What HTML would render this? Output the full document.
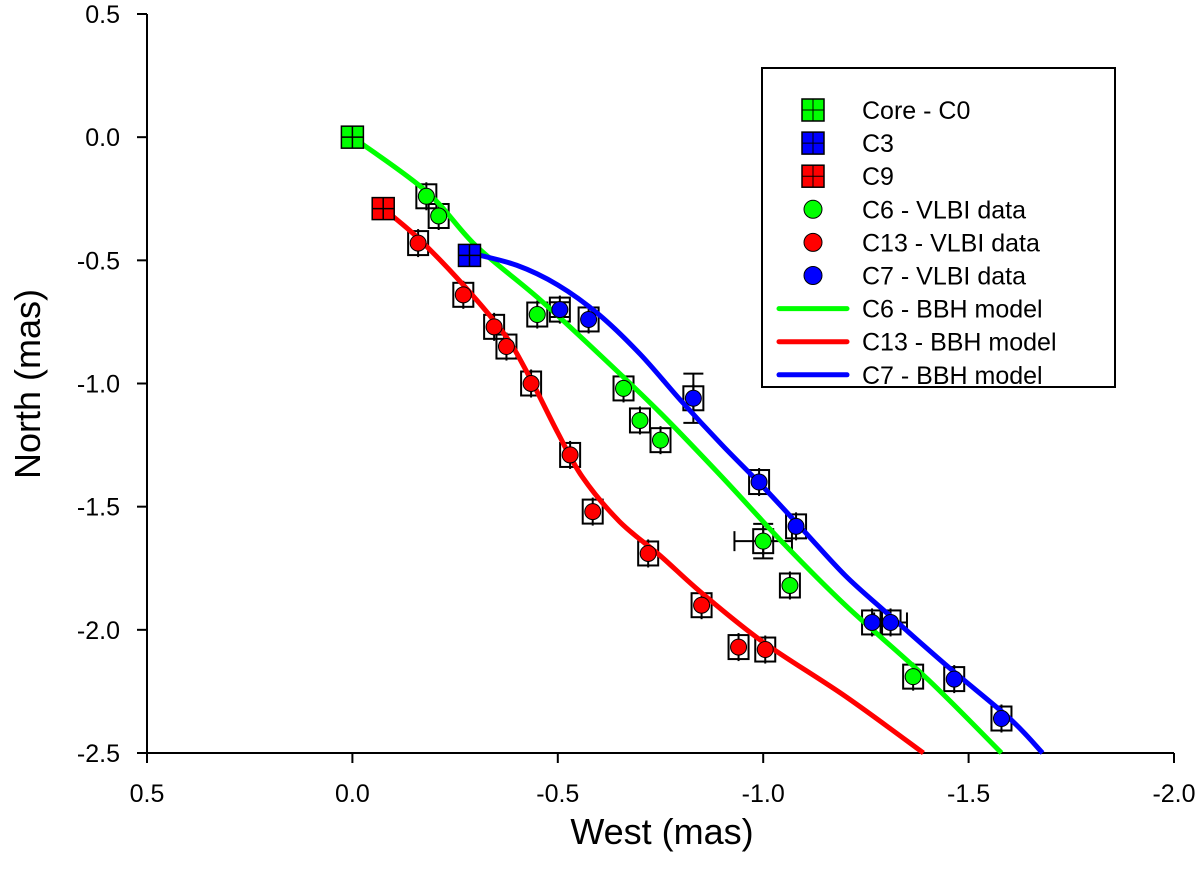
<!DOCTYPE html>
<html><head><meta charset="utf-8"><style>
body{margin:0;background:#fff}
svg text{font-family:"Liberation Sans",sans-serif}
</style></head><body>
<svg id="c" width="1200" height="885"></svg>
<script>
const xTicks=[0.5,0.0,-0.5,-1.0,-1.5,-2.0];
const yTicks=[0.5,0.0,-0.5,-1.0,-1.5,-2.0,-2.5];
const c6x=[-0.18,-0.21,-0.45,-0.66,-0.70,-0.75,-1.0,-1.065,-1.365];
const c6y=[-0.24,-0.32,-0.72,-1.02,-1.15,-1.23,-1.64,-1.82,-2.19];
const c13x=[-0.16,-0.27,-0.345,-0.375,-0.435,-0.53,-0.585,-0.72,-0.85,-0.94,-1.005];
const c13y=[-0.43,-0.64,-0.77,-0.85,-1.0,-1.29,-1.52,-1.69,-1.9,-2.07,-2.08];
const c7x=[-0.505,-0.575,-0.83,-0.99,-1.08,-1.265,-1.31,-1.465,-1.58];
const c7y=[-0.70,-0.74,-1.06,-1.40,-1.58,-1.97,-1.97,-2.20,-2.36];
const coreX=[0],coreY=[0],c9X=[-0.075],c9Y=[-0.29],c3X=[-0.285],c3Y=[-0.48];
const m6x=[0,-0.18,-0.3,-0.45,-0.6,-0.75,-0.9,-1.05,-1.2,-1.4,-1.58];
const m6y=[0,-0.22,-0.44,-0.65,-0.88,-1.12,-1.38,-1.65,-1.9,-2.2,-2.5];
const m13x=[-0.075,-0.16,-0.27,-0.37,-0.43,-0.5,-0.56,-0.65,-0.75,-0.85,-1.0,-1.2,-1.39];
const m13y=[-0.29,-0.41,-0.6,-0.8,-0.97,-1.2,-1.38,-1.56,-1.7,-1.85,-2.05,-2.27,-2.5];
const m7x=[-0.285,-0.4,-0.5,-0.6,-0.7,-0.8,-0.9,-1.0,-1.1,-1.2,-1.3,-1.45,-1.6,-1.68];
const m7y=[-0.47,-0.52,-0.6,-0.72,-0.88,-1.07,-1.25,-1.42,-1.6,-1.78,-1.93,-2.15,-2.36,-2.5];
const X=v=>147+(0.5-v)/2.5*1027;
const Y=v=>14+(0.5-v)/3*739;
const svg=document.getElementById('c');const NS='http://www.w3.org/2000/svg';
function mk(t,a,p){const e=document.createElementNS(NS,t);for(const k in a)e.setAttribute(k,a[k]);(p||svg).appendChild(e);return e;}
let e;
e=mk('line',{x1:147,y1:14,x2:147,y2:753,stroke:'#000','stroke-width':2});


e=mk('line',{x1:147,y1:753,x2:1174,y2:753,stroke:'#000','stroke-width':2});


xTicks.forEach(v=>{mk('line',{x1:X(v),y1:753,x2:X(v),y2:763,stroke:'#000','stroke-width':2});
 e=mk('text',{x:X(v),y:802,'font-size':25,'text-anchor':'middle'});e.textContent=v.toFixed(1);
 
 });
yTicks.forEach(v=>{mk('line',{x1:137,y1:Y(v),x2:147,y2:Y(v),stroke:'#000','stroke-width':2});
 e=mk('text',{x:120,y:Y(v)+9,'font-size':25,'text-anchor':'end'});e.textContent=v.toFixed(1);
 
 });
e=mk('text',{x:662,y:844,'font-size':36,'text-anchor':'middle'});e.textContent='West (mas)';


e=mk('text',{x:40,y:384,'font-size':36,'text-anchor':'middle',transform:'rotate(-90 40 384)'});e.textContent='North (mas)';


function boxes(xs,ys,name){xs.forEach((x,i)=>{const g=mk('g',{});
 
 
 mk('rect',{x:X(x)-10,y:Y(ys[i])-12,width:20,height:24,fill:'none',stroke:'#000','stroke-width':2},g);
 mk('line',{x1:X(x),y1:Y(ys[i])-14,x2:X(x),y2:Y(ys[i])+14,stroke:'#000','stroke-width':2},g);});}
boxes(c6x,c6y,'c6');boxes(c13x,c13y,'c13');boxes(c7x,c7y,'c7');
function ebar(x,y,dx,dy){const g=mk('g',{stroke:'#000','stroke-width':2});
 
 
 if(dy){mk('line',{x1:X(x),y1:Y(y+dy),x2:X(x),y2:Y(y-dy)},g);mk('line',{x1:X(x)-10,y1:Y(y+dy),x2:X(x)+10,y2:Y(y+dy)},g);mk('line',{x1:X(x)-10,y1:Y(y-dy),x2:X(x)+10,y2:Y(y-dy)},g);}
 if(dx){mk('line',{x1:X(x+dx),y1:Y(y),x2:X(x-dx),y2:Y(y)},g);mk('line',{x1:X(x+dx),y1:Y(y)-10,x2:X(x+dx),y2:Y(y)+10},g);mk('line',{x1:X(x-dx),y1:Y(y)-10,x2:X(x-dx),y2:Y(y)+10},g);}}
ebar(c7x[2],c7y[2],0,0.1);ebar(c6x[6],c6y[6],0.07,0.07);ebar(c7x[0],c7y[0],0,0.03);ebar(c7x[6],c7y[6],0.04,0);
function smooth(pts){let d='M'+pts[0][0]+','+pts[0][1];
 for(let i=0;i<pts.length-1;i++){const p0=pts[i-1]||pts[i],p1=pts[i],p2=pts[i+1],p3=pts[i+2]||p2;
  d+=' C'+(p1[0]+(p2[0]-p0[0])/6)+','+(p1[1]+(p2[1]-p0[1])/6)+' '+(p2[0]-(p3[0]-p1[0])/6)+','+(p2[1]-(p3[1]-p1[1])/6)+' '+p2[0]+','+p2[1];}
 return d;}
function line(xs,ys,col,name){e=mk('path',{d:smooth(xs.map((x,i)=>[X(x),Y(ys[i])])),fill:'none',stroke:col,'stroke-width':5,'stroke-linejoin':'round'});
 
 }
line(m6x,m6y,'#00ff00','c6-model-line');line(m13x,m13y,'#ff0000','c13-model-line');line(m7x,m7y,'#0000ff','c7-model-line');
function dots(xs,ys,col,name){xs.forEach((x,i)=>{e=mk('circle',{cx:X(x),cy:Y(ys[i]),r:8,fill:col,stroke:'#000','stroke-width':1});
 
 });}
dots(c6x,c6y,'#00ff00','c6-point');dots(c13x,c13y,'#ff0000','c13-point');dots(c7x,c7y,'#0000ff','c7-point');
function sq(cx,cy,col,name){const g=mk('g',{});
 
 
 mk('rect',{x:cx-11,y:cy-11,width:22,height:22,fill:col,stroke:'#000','stroke-width':1.5},g);
 mk('line',{x1:cx,y1:cy-11,x2:cx,y2:cy+11,stroke:'#000','stroke-width':1.5},g);
 mk('line',{x1:cx-11,y1:cy,x2:cx+11,y2:cy,stroke:'#000','stroke-width':1.5},g);}
sq(X(coreX[0]),Y(coreY[0]),'#00ff00','core-c0-marker');sq(X(c9X[0]),Y(c9Y[0]),'#ff0000','c9-marker');sq(X(c3X[0]),Y(c3Y[0]),'#0000ff','c3-marker');
const lg=mk('g',{});


mk('rect',{x:762,y:68,width:353,height:319,fill:'#fff',stroke:'#000','stroke-width':2},lg);
const items=[['sq','#00ff00','Core - C0'],['sq','#0000ff','C3'],['sq','#ff0000','C9'],['c','#00ff00','C6 - VLBI data'],['c','#ff0000','C13 - VLBI data'],['c','#0000ff','C7 - VLBI data'],['l','#00ff00','C6 - BBH model'],['l','#ff0000','C13 - BBH model'],['l','#0000ff','C7 - BBH model']];
items.forEach((it,i)=>{const y=110+i*33.1;const g=mk('g',{},lg);
 
 
 if(it[0]=='sq'){mk('rect',{x:802,y:y-11,width:22,height:22,fill:it[1],stroke:'#000','stroke-width':1.5},g);mk('line',{x1:813,y1:y-11,x2:813,y2:y+11,stroke:'#000'},g);mk('line',{x1:802,y1:y,x2:824,y2:y,stroke:'#000'},g);}
 else if(it[0]=='c')mk('circle',{cx:813,cy:y,r:9,fill:it[1],stroke:'#000'},g);
 else mk('line',{x1:779,y1:y,x2:847,y2:y,stroke:it[1],'stroke-width':5,'stroke-linecap':'round'},g);
 const t=mk('text',{x:862,y:y+9,'font-size':25},g);t.textContent=it[2];});
</script>
</body></html>
